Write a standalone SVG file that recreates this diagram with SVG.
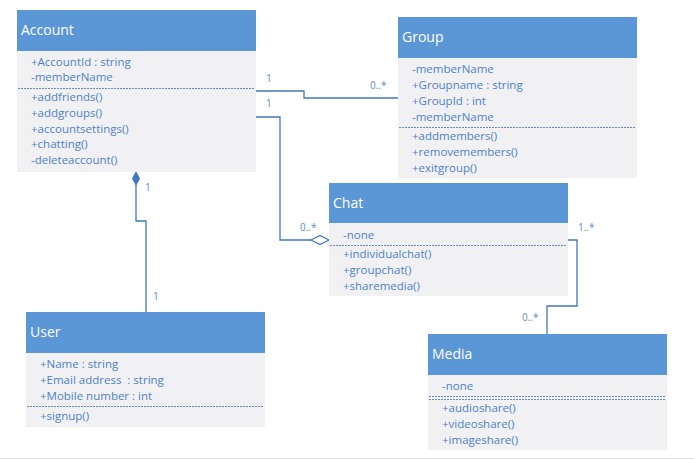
<svg xmlns="http://www.w3.org/2000/svg" width="694" height="460" viewBox="0 0 694 460">
<style>
.hd{fill:#5B96D6;}
.bd{fill:#F1F1F4;}
.tt{font-family:"Open Sans","Liberation Sans",sans-serif;font-size:14px;fill:#ffffff;}
.tx{font-family:"Open Sans","Liberation Sans",sans-serif;font-size:11.5px;fill:#4F81C4;}
.lb{font-family:"Open Sans","Liberation Sans",sans-serif;font-size:10px;fill:#5B8CC8;}
.sep{stroke:#6A8AB8;stroke-width:1;stroke-dasharray:2 1;}
.cn{fill:none;stroke:#3F77C0;stroke-width:1.3;}
</style>
<rect width="694" height="460" fill="#ffffff"/>
<line x1="0" y1="458.5" x2="694" y2="458.5" stroke="#E2E2E2" stroke-width="1"/>

<g id="connectors">
<polyline class="cn" points="256,91 304,91 304,98 398,98"/>
<polyline class="cn" points="256,117 280,117 280,240 311,240"/>
<path d="M311,240 L320,235.5 L329,240 L320,244.5 Z" fill="#ffffff" stroke="#3F77C0" stroke-width="1.2"/>
<polyline class="cn" points="136,185 136,221 146,221 146,312"/>
<path d="M136,172 L139.5,178.5 L136,185 L132.5,178.5 Z" fill="#3F77C0" stroke="#3F77C0" stroke-width="1"/>
<polyline class="cn" points="568,240 577,240 577,306 547,306 547,334"/>
<text class="lb" x="266" y="82">1</text>
<text class="lb" x="266" y="107">1</text>
<text class="lb" x="370" y="89">0..*</text>
<text class="lb" x="300" y="231">0..*</text>
<text class="lb" x="145" y="191">1</text>
<text class="lb" x="153" y="300">1</text>
<text class="lb" x="578" y="231">1..*</text>
<text class="lb" x="522" y="321">0..*</text>
</g>

<g id="account">
<rect class="bd" x="17" y="51" width="239" height="121"/>
<rect class="hd" x="17" y="10" width="239" height="41"/>
<text class="tt" x="21" y="35">Account</text>
<text class="tx" x="31" y="66">+AccountId : string</text>
<text class="tx" x="31" y="81">-memberName</text>
<line class="sep" x1="18" y1="88.5" x2="255" y2="88.5"/>
<text class="tx" x="31" y="101">+addfriends()</text>
<text class="tx" x="31" y="117">+addgroups()</text>
<text class="tx" x="31" y="133">+accountsettings()</text>
<text class="tx" x="31" y="148">+chatting()</text>
<text class="tx" x="31" y="164">-deleteaccount()</text>
</g>

<g id="group">
<rect class="bd" x="398" y="58" width="239" height="120"/>
<rect class="hd" x="398" y="17" width="239" height="41"/>
<text class="tt" x="402" y="42">Group</text>
<text class="tx" x="412" y="73">-memberName</text>
<text class="tx" x="412" y="89">+Groupname : string</text>
<text class="tx" x="412" y="105">+GroupId : int</text>
<text class="tx" x="412" y="121">-memberName</text>
<line class="sep" x1="399" y1="127.5" x2="636" y2="127.5"/>
<text class="tx" x="412" y="140">+addmembers()</text>
<text class="tx" x="412" y="156">+removemembers()</text>
<text class="tx" x="412" y="172">+exitgroup()</text>
</g>

<g id="chat">
<rect class="bd" x="329" y="223" width="239" height="73"/>
<rect class="hd" x="329" y="183" width="239" height="40"/>
<text class="tt" x="333" y="208">Chat</text>
<text class="tx" x="343" y="239">-none</text>
<line class="sep" x1="330" y1="245.5" x2="567" y2="245.5"/>
<text class="tx" x="343" y="258">+individualchat()</text>
<text class="tx" x="343" y="274">+groupchat()</text>
<text class="tx" x="343" y="290">+sharemedia()</text>
</g>

<g id="user">
<rect class="bd" x="26" y="353" width="239" height="74"/>
<rect class="hd" x="26" y="312" width="239" height="41"/>
<text class="tt" x="30" y="337">User</text>
<text class="tx" x="40" y="368">+Name : string</text>
<text class="tx" x="40" y="384" xml:space="preserve" style="white-space:pre">+Email address  : string</text>
<text class="tx" x="40" y="400">+Mobile number : int</text>
<line class="sep" x1="27" y1="406.5" x2="264" y2="406.5"/>
<text class="tx" x="40" y="420">+signup()</text>
</g>

<g id="media">
<rect class="bd" x="428" y="375" width="239" height="75"/>
<rect class="hd" x="428" y="334" width="239" height="41"/>
<text class="tt" x="432" y="359">Media</text>
<text class="tx" x="442" y="390">-none</text>
<line class="sep" x1="429" y1="396.5" x2="666" y2="396.5"/>
<line class="sep" x1="429" y1="399.5" x2="666" y2="399.5"/>
<text class="tx" x="442" y="412">+audioshare()</text>
<text class="tx" x="442" y="428">+videoshare()</text>
<text class="tx" x="442" y="444">+imageshare()</text>
</g>
</svg>
